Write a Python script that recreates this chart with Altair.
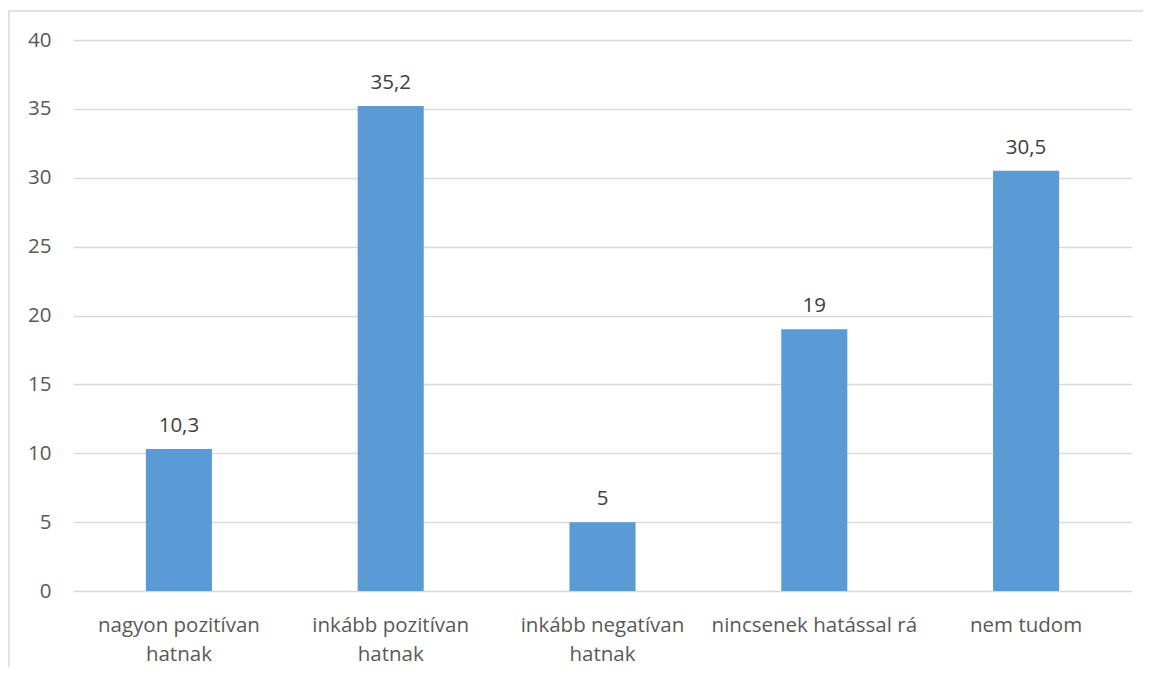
import altair as alt
import pandas as pd

categories = ["nagyon pozitívan hatnak", "inkább pozitívan hatnak", "inkább negatívan hatnak",
              "nincsenek hatással rá", "nem tudom"]
values = [10.3, 35.2, 5, 19, 30.5]
labels = ["10,3", "35,2", "5", "19", "30,5"]
y_ticks = [0, 5, 10, 15, 20, 25, 30, 35, 40]

df = pd.DataFrame({"cat": categories, "val": values, "lab": labels})

FONT = "Open Sans"
FS = 20.5

x = alt.X("cat:N", sort=categories, title=None,
          scale=alt.Scale(paddingInner=0.688, paddingOuter=0.344),
          axis=alt.Axis(labelAngle=0, domain=False, ticks=False, grid=False, labelFont=FONT,
                        labelFontSize=FS, labelColor="#595959", labelPadding=24,
                        labelBaseline="top", labelLineHeight=29, labelLimit=300,
                        labelExpr="indexof(datum.label, ' hatnak') > 0 ? [replace(datum.label, ' hatnak', ''), 'hatnak'] : datum.label"))
y = alt.Y("val:Q", title=None, scale=alt.Scale(domain=[0, 40], nice=False),
          axis=alt.Axis(values=y_ticks, domain=False, ticks=False, labelFont=FONT,
                        labelFontSize=FS, labelColor="#595959", labelPadding=22,
                        gridColor="#d9d9d9", gridWidth=1.3))

bars = alt.Chart(df).mark_bar(color="#5b9bd5").encode(x=x, y=y)
text = alt.Chart(df).mark_text(font=FONT, fontSize=FS, color="#404040",
                               baseline="alphabetic", dy=-17).encode(
    x=alt.X("cat:N", sort=categories), y="val:Q", text="lab:N")

one = pd.DataFrame({"a": [0]})
top_line = alt.Chart(one).mark_rule(stroke="#d9d9d9", strokeWidth=1.5).encode(
    x=alt.value(-64), x2=alt.value(1070), y=alt.value(-29))
left_line = alt.Chart(one).mark_rule(stroke="#d9d9d9", strokeWidth=1.5).encode(
    x=alt.value(-64), y=alt.value(-29), y2=alt.value(629))

chart = alt.layer(bars, text, top_line, left_line).properties(
    width=1059, height=551,
    autosize=alt.AutoSizeParams(type="none"),
    padding={"left": 65, "top": 32, "right": 11, "bottom": 76},
).configure(background="white", view=alt.ViewConfig(stroke="transparent", strokeWidth=0))

chart.save("out.html", embed_options={"renderer": "svg", "actions": False})
